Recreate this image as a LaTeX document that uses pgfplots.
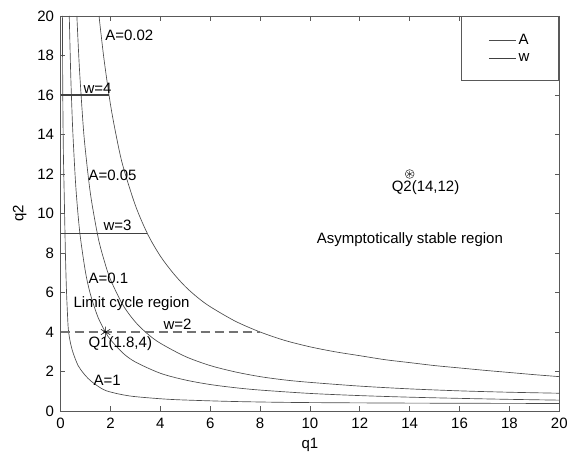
\documentclass[border=0pt]{standalone}
\usepackage{fontspec}
\setmainfont{Liberation Sans}
\usepackage{pgfplots}
\pgfplotsset{compat=1.18}

\definecolor{curve}{gray}{0.30}
\definecolor{frame}{gray}{0.35}

\begin{document}
\begin{tikzpicture}
\begin{axis}[
    at={(0,0)}, anchor=south west,
    scale only axis, width=373.95bp, height=296.25bp,
    xmin=0, xmax=20, ymin=0, ymax=20,
    xtick={0,2,...,20}, ytick={0,2,...,20},
    tick align=inside, major tick length=3.5bp,
    xtick pos=both, ytick pos=both,
    tick style={frame, line width=0.5pt},
    axis line style={frame, line width=0.7pt},
    font=\fontsize{11.3}{13}\selectfont,
    /pgf/number format/assume math mode=true,
    yticklabel style={xshift=-1.5bp},
    xticklabel style={yshift=-1.5bp},
    xlabel={q1}, ylabel={q2},
    every axis x label/.style={at={(axis description cs:0.5,-0.086)}, anchor=center},
    every axis y label/.style={at={(axis description cs:-0.082,0.5)}, rotate=90, anchor=center},
    legend cell align=left,
    legend image code/.code={\draw[#1] (0bp,0bp) -- (20bp,0bp);},
    legend style={at={(1,1)}, anchor=north east, draw=frame, line width=0.6pt,
        inner xsep=20bp, inner ysep=11bp, row sep=1.5bp, font=\fontsize{11.3}{13}\selectfont},
]
% A = 0.02
\addplot[curve, line width=0.5pt, smooth] coordinates {
    (1.54,20) (1.6,19.3) (1.75,17.7) (2,15.5) (2.25,13.8) (2.5,12.4) (3,10.4)
    (3.5,8.93) (4,7.84) (4.5,7.0) (5,6.3) (5.5,5.74) (6,5.28) (7,4.55) (8,4.0)
    (9,3.57) (10,3.25) (11,3.0) (12,2.8) (13,2.6) (14,2.45) (15,2.3) (16,2.18)
    (17,2.06) (18,1.95) (19,1.84) (20,1.74)
};
\addlegendentry{A}
% A = 0.05
\addplot[curve, line width=0.5pt, smooth, forget plot] coordinates {
    (0.65,20) (0.75,17.4) (0.9,14.5) (1.0,13.1) (1.2,10.95) (1.5,8.8) (1.75,7.6)
    (2,6.65) (2.5,5.36) (3,4.5) (3.5,3.89) (4,3.43) (5,2.76) (6,2.3) (7,1.98)
    (8,1.74) (9,1.57) (10,1.45) (12,1.26) (14,1.12) (16,1.02) (18,0.95) (20,0.9)
};
% A = 0.1
\addplot[curve, line width=0.5pt, smooth, forget plot] coordinates {
    (0.345,20) (0.4,17.2) (0.45,15.3) (0.5,13.8) (0.6,11.5) (0.7,9.9) (0.8,8.7)
    (1.0,7.0) (1.2,5.88) (1.5,4.74) (1.8,3.99) (2,3.61) (2.5,2.93) (3,2.48)
    (4,1.91) (5,1.57) (6,1.34) (7,1.18) (8,1.06) (10,0.89) (12,0.78) (14,0.7)
    (16,0.64) (18,0.59) (20,0.55)
};
% A = 1
\addplot[curve, line width=0.5pt, smooth, forget plot] coordinates {
    (0.07,20) (0.085,16) (0.11,13) (0.15,10.5) (0.19,8) (0.23,6.2) (0.27,5)
    (0.31,4.1) (0.4,3.4) (0.51,2.9) (0.7,2.3) (0.91,1.92) (1.1,1.65) (1.31,1.42)
    (1.6,1.17) (1.84,1.02) (2.3,0.87) (2.9,0.74) (4,0.62) (4.9,0.56) (7,0.48)
    (9.6,0.43) (14,0.4) (20,0.38)
};
% w = 4
\addplot[black!75, line width=0.8pt] coordinates {(0,16) (1.94,16)};
\addlegendentry{w}
% w = 3
\addplot[black!75, line width=0.8pt, forget plot] coordinates {(0,9) (3.47,9)};
% w = 2
\addplot[black!55, line width=0.8pt, dash pattern=on 7bp off 3.5bp, forget plot]
    coordinates {(0,4) (8,4)};
% Q1, Q2
\addplot[only marks, mark=asterisk, mark size=4bp, black, forget plot]
    coordinates {(1.8,4)};
\addplot[only marks, mark=o, mark size=3.3bp, black!80, forget plot]
    coordinates {(14,12)};
\addplot[only marks, mark=asterisk, mark size=2.4bp, black!80, forget plot]
    coordinates {(14,12)};

\node[anchor=west, inner sep=0pt] at (axis cs:1.78,19.04) {A=0.02};
\node[anchor=west, inner sep=0pt] at (axis cs:0.91,16.34) {w=4};
\node[anchor=west, inner sep=0pt] at (axis cs:1.11,11.95) {A=0.05};
\node[anchor=west, inner sep=0pt] at (axis cs:1.71,9.42) {w=3};
\node[anchor=west, inner sep=0pt] at (axis cs:1.11,6.72) {A=0.1};
\node[anchor=west, inner sep=0pt] at (axis cs:0.51,5.42) {Limit cycle region};
\node[anchor=west, inner sep=0pt] at (axis cs:4.12,4.4) {w=2};
\node[anchor=west, inner sep=0pt] at (axis cs:1.11,3.43) {Q1(1.8,4)};
\node[anchor=west, inner sep=0pt] at (axis cs:1.31,1.57) {A=1};
\node[anchor=west, inner sep=0pt] at (axis cs:13.27,11.33) {Q2(14,12)};
\node[anchor=east, inner sep=0pt] at (axis cs:17.75,8.66) {Asymptotically stable region};
\end{axis}
\pgfresetboundingbox
\useasboundingbox (-45.5bp,-35.25bp) rectangle (385bp,308.25bp);
\end{tikzpicture}
\end{document}
